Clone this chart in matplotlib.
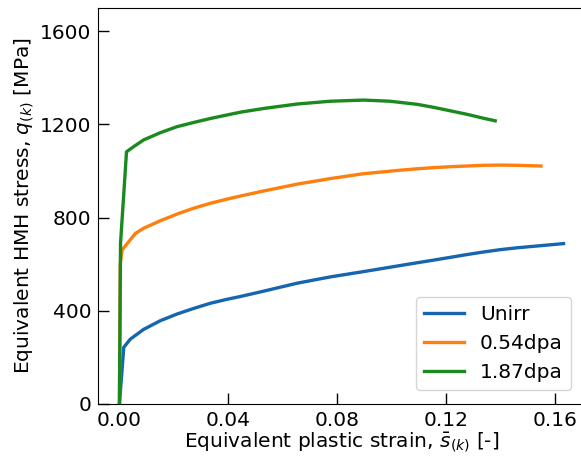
import numpy as np
import matplotlib
matplotlib.use("Agg")
import matplotlib.pyplot as plt

# strain / stress points
unirr_strain = [0.0, 0.0016, 0.0040, 0.0089, 0.0150, 0.0212, 0.0273, 0.0334, 0.0395,
                0.0444, 0.0530, 0.0652, 0.0774, 0.0897, 0.1068, 0.1153, 0.1215,
                0.1276, 0.1337, 0.1398, 0.1460, 0.1631]
unirr_stress = [0, 243, 278, 320, 357, 386, 410, 432, 449,
                461, 484, 518, 545, 568, 601, 617, 629,
                641, 652, 662, 670, 688]

dpa054_strain = [0.0, 0.0003, 0.0010, 0.0059, 0.0089, 0.0150, 0.0212, 0.0273, 0.0334,
                 0.0395, 0.0444, 0.0530, 0.0652, 0.0774, 0.0897, 0.1031, 0.1092,
                 0.1153, 0.1215, 0.1276, 0.1337, 0.1398, 0.1460, 0.1548]
dpa054_stress = [0, 600, 661, 732, 754, 786, 815, 840, 861,
                 879, 892, 914, 943, 967, 988, 1003, 1009,
                 1014, 1018, 1021, 1024, 1025, 1024, 1021]

dpa187_strain = [0.0, 0.0004, 0.0026, 0.0052, 0.0089, 0.0150, 0.0212, 0.0273, 0.0334,
                 0.0395, 0.0444, 0.0530, 0.0652, 0.0774, 0.0897, 0.0994, 0.1031,
                 0.1092, 0.1153, 0.1215, 0.1276, 0.1337, 0.1380]
dpa187_stress = [0, 689, 1082, 1104, 1133, 1164, 1190, 1208, 1225,
                 1240, 1252, 1268, 1287, 1299, 1304, 1299, 1294,
                 1286, 1273, 1258, 1243, 1226, 1215]

labels = ['Unirr', '0.54dpa', '1.87dpa']
colors = ['#1565b0', '#ff7f0e', '#1a8a1f']

fig = plt.figure(figsize=(5.81, 4.59), dpi=100)
ax = fig.add_axes([0.169, 0.12, 0.838, 0.863])

ax.plot(unirr_strain, unirr_stress, color=colors[0], lw=2.4, label=labels[0])
ax.plot(dpa054_strain, dpa054_stress, color=colors[1], lw=2.4, label=labels[1])
ax.plot(dpa187_strain, dpa187_stress, color=colors[2], lw=2.4, label=labels[2])

ax.set_xlim(-0.0078, 0.171)
ax.set_ylim(0, 1700)
ax.set_xticks([0.0, 0.04, 0.08, 0.12, 0.16])
ax.set_xticklabels(['0.00', '0.04', '0.08', '0.12', '0.16'])
ax.set_yticks([0, 400, 800, 1200, 1600])
ax.tick_params(direction='in', length=8, width=1, labelsize=14.5, pad=5)

ax.set_xlabel(r'Equivalent plastic strain, $\bar{s}_{(k)}$ [-]', fontsize=14.5, labelpad=1)
ax.set_ylabel(r'Equivalent HMH stress, $q_{(k)}$ [MPa]', fontsize=14.5, labelpad=3)

ax.legend(loc='lower right', fontsize=14.5, handlelength=2.0, borderaxespad=0.7)

fig.savefig('out.png', dpi=100)
